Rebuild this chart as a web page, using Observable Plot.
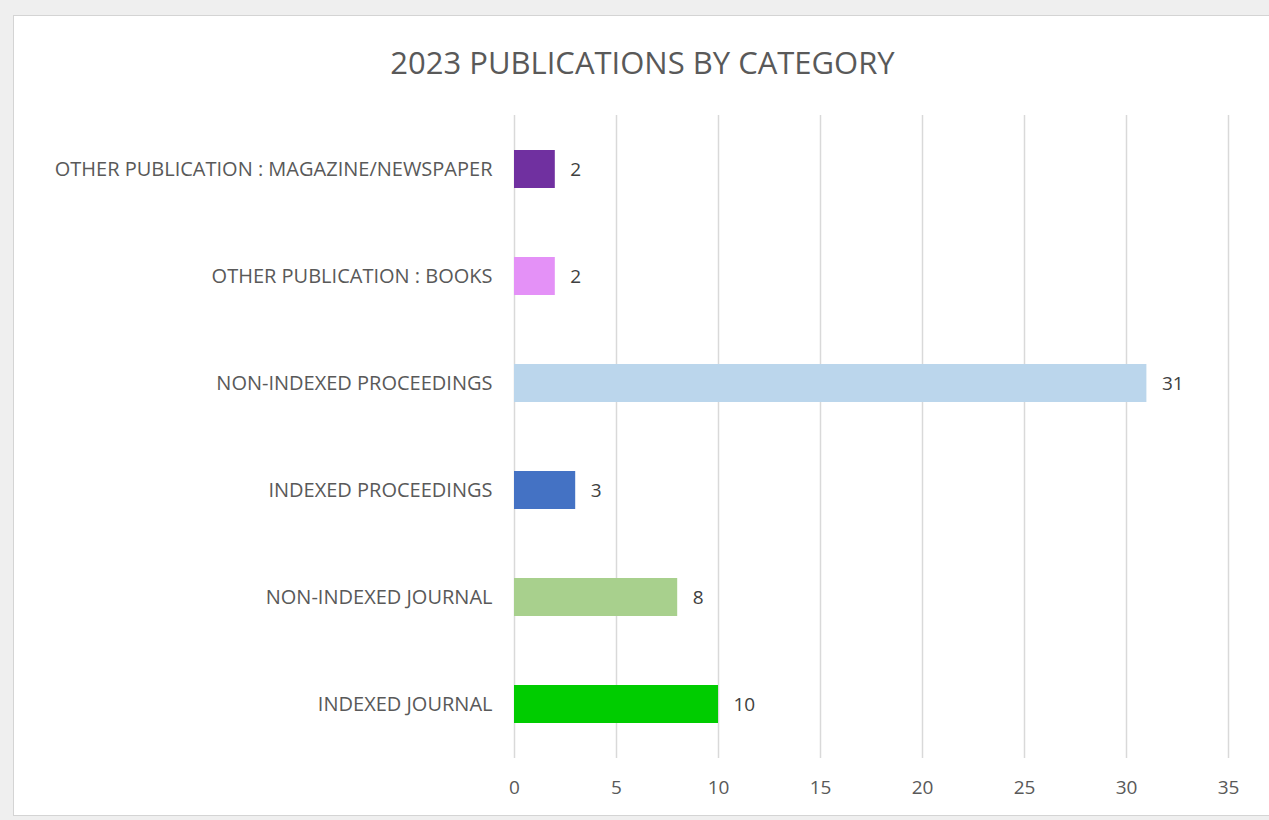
<!DOCTYPE html>
<html>
<head>
<meta charset="utf-8">
<script src="https://cdn.jsdelivr.net/npm/d3@7"></script>
<script src="https://cdn.jsdelivr.net/npm/@observablehq/plot@0.6"></script>
<style>
  html, body { margin: 0; padding: 0; background: #efefef; width: 1269px; height: 820px; overflow: hidden; }
  #card { position: absolute; left: 13px; top: 15px; width: 1300px; height: 801px; background: #fff; border: 1px solid #d4d4d4; box-sizing: border-box; }
  #title { position: absolute; left: 0; top: 0; width: 1257px; height: 80px; padding-top: 27px; box-sizing: border-box;
           text-align: center; font-family: "Open Sans", sans-serif; font-size: 31px; line-height: 38px; color: #595959; }
  #chart { position: absolute; left: 0; top: 80px; }
</style>
</head>
<body>
<div id="card">
  <div id="title">2023 PUBLICATIONS BY CATEGORY</div>
  <div id="chart"></div>
</div>
<script>
const categories = [
  "OTHER PUBLICATION : MAGAZINE/NEWSPAPER",
  "OTHER PUBLICATION : BOOKS",
  "NON-INDEXED PROCEEDINGS",
  "INDEXED PROCEEDINGS",
  "NON-INDEXED JOURNAL",
  "INDEXED JOURNAL"
];
const values = [2, 2, 31, 3, 8, 10];
const colors = ["#7030A0", "#E491F7", "#BBD6EC", "#4472C4", "#A8D08D", "#00CC00"];
const xTicks = [0, 5, 10, 15, 20, 25, 30, 35];

const data = categories.map((c, i) => ({category: c, value: values[i], color: colors[i]}));

const chart = Plot.plot({
  width: 1256,
  height: 720,
  marginTop: 19,
  marginBottom: 58,
  marginLeft: 500,
  marginRight: 42,
  style: {fontFamily: "Open Sans, sans-serif", fontSize: "16px", color: "#595959", background: "transparent"},
  x: {domain: [0, 35], ticks: xTicks, label: null},
  y: {domain: categories, paddingInner: 0.645, paddingOuter: 0.3225, label: null},
  marks: [
    Plot.gridX(xTicks, {stroke: "#d9d9d9", strokeOpacity: 1, strokeWidth: 1.5}),
    Plot.barX(data, {x: "value", y: "category", fill: "color"}),
    Plot.text(data, {x: "value", y: "category", text: d => String(d.value), textAnchor: "start", dx: 15, fill: "#404040", fontSize: 19}),
    Plot.axisX(xTicks, {tickSize: 0, tickPadding: 22, fontSize: 19, fill: "#595959", label: null}),
    Plot.axisY({tickSize: 0, tickPadding: 22, fontSize: 20, fill: "#595959", label: null})
  ]
});
document.getElementById("chart").appendChild(chart);
</script>
</body>
</html>
